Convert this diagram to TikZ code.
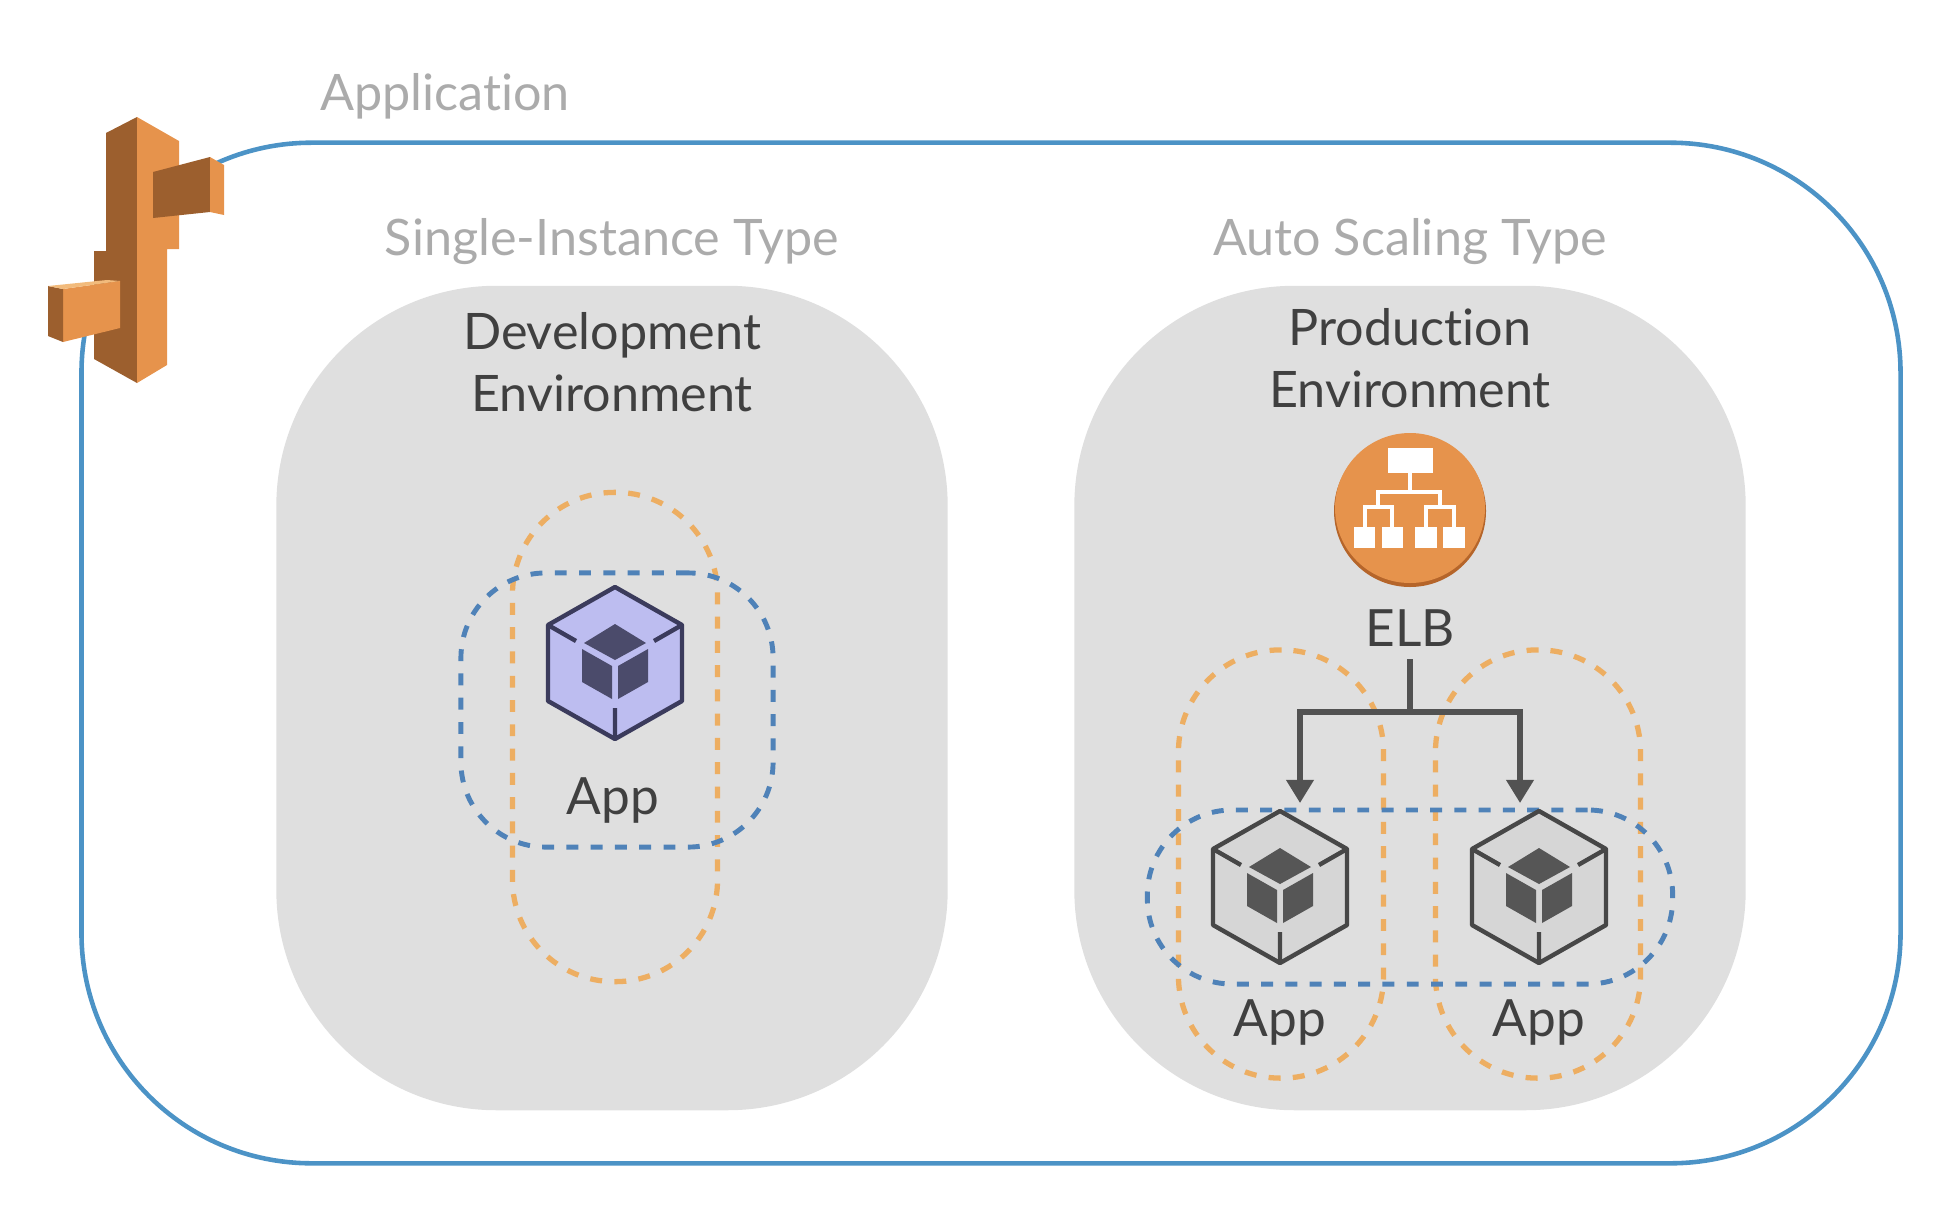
\documentclass[tikz,border=0pt]{standalone}
\usepackage{fontspec}
\setmainfont{Lato}[Ligatures=CommonOff]
\usetikzlibrary{arrows.meta,calc}
\definecolor{framecol}{HTML}{4C93C6}
\definecolor{blobcol}{HTML}{DFDFDF}
\definecolor{loopblue}{HTML}{4F82B8}
\definecolor{looporange}{HTML}{EDAE62}
\definecolor{awslight}{HTML}{E6934C}
\definecolor{awsdark}{HTML}{9C5F2E}
\definecolor{awstop}{HTML}{F2BB7C}
\definecolor{elbedge}{HTML}{B5652A}
\definecolor{cubelilac}{HTML}{BDBDF0}
\definecolor{cubenavy}{HTML}{3B3B5C}
\definecolor{corenavy}{HTML}{4B4B6B}
\definecolor{cubegrey}{HTML}{D6D6D6}
\definecolor{cubeline}{HTML}{474747}
\definecolor{coregrey}{HTML}{565656}
\tikzstyle{frame}=[draw=framecol,line width=1.3pt,rounded corners=2.3cm,inner sep=0pt]
\tikzstyle{blob}=[fill=blobcol,rounded corners=2.2cm,minimum width=6.71cm,minimum height=8.24cm,inner sep=0pt]
\tikzstyle{orangeloop}=[draw=looporange,line width=1.5pt,dash pattern=on 3.4pt off 3.5pt,rounded corners=1.02cm,minimum width=2.05cm,inner sep=0pt]
\tikzstyle{blueloop}=[draw=loopblue,line width=1.4pt,dash pattern=on 3.4pt off 3.5pt,rounded corners=0.85cm,inner sep=0pt]
\tikzstyle{heading}=[text=black!33,font=\fontsize{14.3}{15}\selectfont,inner sep=0pt]
\tikzstyle{envlabel}=[text=black!75,font=\fontsize{14.3}{17.6}\selectfont,align=center,inner sep=0pt]
\tikzstyle{applabel}=[text=black!75,font=\fontsize{14.6}{15}\selectfont,inner sep=0pt]
\tikzstyle{flow}=[draw=black!68,line width=1.5pt,-{Triangle[width=7.6pt,length=6.6pt]}]
\newcommand{\appcube}[4]{%
  \begin{scope}[shift={(#1)}]
    \draw[fill=#2,draw=#3,line width=1.25pt,line join=round] (0,-76) -- (67,-38) -- (67,38) -- (0,76) -- (-67,38) -- (-67,-38) -- cycle;
    \draw[draw=#3,line width=1.25pt] (-67,-38) -- (-39,-22) (67,-38) -- (39,-22) (0,76) -- (0,45);
    \fill[#4] (0,-39) -- (31,-20) -- (0,-3) -- (-31,-20) -- cycle;
    \fill[#4] (-33,-14) -- (-3,3) -- (-3,36) -- (-33,19) -- cycle;
    \fill[#4] (33,-14) -- (3,3) -- (3,36) -- (33,19) -- cycle;
  \end{scope}}
\begin{document}
\begin{tikzpicture}[x=0.01cm,y=-0.01cm]
  \useasboundingbox (0,0) rectangle (1940,1224);

  \node[frame,minimum width=18.18cm,minimum height=10.2cm] (appframe) at (991,653) {};
  \node[heading] (apptitle) at (445,96) {Application};

  \foreach \pos/ \name in {{(612,698)/devblob},{(1410,698)/prodblob}}
    \node[blob] (\name) at \pos {};

  \node[heading] (singletitle) at (612,242) {Single-Instance Type};
  \node[heading] (autotitle) at (1410,242) {Auto Scaling Type};
  \node[envlabel] (devlabel) at (612,362) {Development\\Environment};
  \node[envlabel] (prodlabel) at (1410,358) {Production\\Environment};

  % dashed loops
  \foreach \pos/ \name/ \high in {{(615,737)/devzone/4.89cm},{(1281,864)/zonea/4.28cm},{(1538,864)/zoneb/4.28cm}}
    \node[orangeloop,minimum height=\high] (\name) at \pos {};
  \node[blueloop,minimum width=3.12cm,minimum height=2.74cm] (devgroup) at (617,710) {};
  \node[blueloop,minimum width=5.25cm,minimum height=1.74cm] (prodgroup) at (1410,897) {};

  % instances
  \appcube{615,663}{cubelilac}{cubenavy}{corenavy}
  \appcube{1280,887}{cubegrey}{cubeline}{coregrey}
  \appcube{1539,887}{cubegrey}{cubeline}{coregrey}
  \foreach \pos/ \name in {{(613,800)/appdev},{(1280,1022)/appa},{(1539,1022)/appb}}
    \node[applabel] (\name) at \pos {App};

  % load balancer
  \fill[elbedge] (1410,511) circle (76);
  \fill[awslight] (1410,508) circle (75);
  \fill[white] (1388,448) rectangle (1433,473);
  \foreach \xa/ \xb in {1354/1375,1382/1403,1415/1437,1443/1465}
    \fill[white] (\xa,527) rectangle (\xb,548);
  \draw[white,line width=1.1pt] (1410,473) -- (1410,492) (1378,507) -- (1378,492) -- (1440,492) -- (1440,507)
    (1365,527) -- (1365,507) -- (1392,507) -- (1392,527) (1426,527) -- (1426,507) -- (1454,507) -- (1454,527);
  \node[applabel] (elblabel) at (1410,628) {ELB};

  \coordinate (elbjoin) at (1410,712);
  \coordinate (tipa) at (1300,803);
  \coordinate (tipb) at (1520,803);
  \draw[flow] (elblabel.south) ++(0,12) -- (elbjoin) -| (tipa);
  \draw[flow] (elbjoin) -| (tipb);

  % logo
  \fill[awsdark] (106,133) -- (137,117) -- (137,383) -- (94,359) -- (94,251) -- (106,251) -- cycle;
  \fill[awslight] (137,117) -- (179,141) -- (179,249) -- (167,249) -- (167,365) -- (137,383) -- cycle;
  \fill[awsdark] (153,172) -- (210,157) -- (210,212) -- (153,218) -- cycle;
  \fill[awslight] (210,157) -- (224,165) -- (224,215) -- (210,212) -- cycle;
  \fill[awslight] (63,289) -- (120,281) -- (120,328) -- (63,342) -- cycle;
  \fill[awsdark] (48,286) -- (63,289) -- (63,342) -- (48,336) -- cycle;
  \fill[awstop] (48,286) -- (107,280) -- (120,281) -- (63,289) -- cycle;
\end{tikzpicture}
\end{document}
